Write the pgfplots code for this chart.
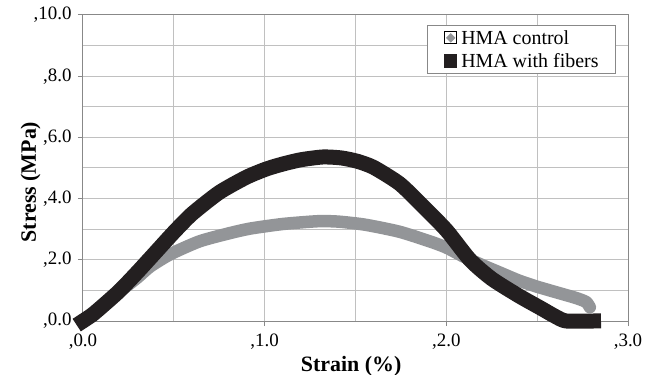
\documentclass[border=0pt]{standalone}
\usepackage{fontspec}
\setmainfont{Liberation Serif}
\usepackage{pgfplots}
\pgfplotsset{compat=1.18}
\definecolor{ctrl}{HTML}{939598}
\definecolor{fib}{HTML}{231F20}
\definecolor{gridc}{HTML}{C0C0C0}
\definecolor{axc}{HTML}{888888}
\begin{document}
\begin{tikzpicture}
\useasboundingbox (-83bp,-54bp) rectangle (574bp,321bp);
\begin{axis}[
  at={(0,0)}, anchor=south west,
  scale only axis, width=545bp, height=306bp,
  xmin=0, xmax=3, ymin=0, ymax=10,
  xtick={0,1,2,3}, xticklabels={{,0.0},{,1.0},{,2.0},{,3.0}},
  ytick={0,2,4,6,8,10}, yticklabels={{,0.0},{,2.0},{,4.0},{,6.0},{,8.0},{,10.0}},
  minor xtick={0.5,1.5,2.5}, minor ytick={1,3,5,7,9},
  grid=both,
  major grid style={gridc, line width=1bp},
  minor grid style={gridc, line width=1bp},
  axis line style={axc, line width=1bp},
  tick style={axc, line width=1bp},
  major tick length=5bp, minor tick length=0pt,
  tick align=outside, tick pos=left,
  ticklabel style={font=\fontsize{19}{21}\selectfont},
  xticklabel style={yshift=-4bp},
  yticklabel style={xshift=-3bp},
  /pgf/number format/assume math mode=true,
  xlabel={Strain (\%)}, ylabel={Stress (MPa)},
  label style={font=\fontsize{22}{24}\selectfont\bfseries},
  xlabel style={at={(axis description cs:0.492,0)}, anchor=base, yshift=-50bp},
  ylabel style={at={(axis description cs:0,0.454)}, anchor=base, yshift=47bp},
  clip=false,
  legend cell align=left,
  legend style={at={(axis description cs:0.978,0.967)}, anchor=north east,
    draw=axc, line width=1bp, fill=white,
    font=\fontsize{20}{23}\selectfont,
    inner xsep=17bp, inner ysep=5.5bp, row sep=9bp,
    nodes={inner sep=0pt, text height=13.5bp, text depth=0bp},
    /tikz/every odd column/.style={column sep=4bp}},
]
\addplot[ctrl, line width=12.5bp, line cap=round, line join=round, smooth, tension=0.4,
  forget plot]
coordinates {
(0,0) (0.1,0.45) (0.2,0.95) (0.3,1.42) (0.37,1.78) (0.48,2.18) (0.64,2.6)
(0.8,2.86) (0.92,3.02) (1.1,3.17) (1.29,3.26) (1.4,3.25) (1.55,3.15)
(1.74,2.92) (1.91,2.6) (2.0,2.4) (2.09,2.12) (2.2,1.82) (2.3,1.57)
(2.4,1.32) (2.5,1.12) (2.64,0.88) (2.72,0.74) (2.77,0.62) (2.79,0.45)
};
\addplot[fib, line width=15bp, line cap=rect, line join=round, smooth, tension=0.4,
  forget plot]
coordinates {
(0,0) (0.05,0.2) (0.1,0.45) (0.2,0.98) (0.3,1.6) (0.4,2.25) (0.5,2.9)
(0.6,3.5) (0.75,4.2) (0.9,4.7) (1.01,4.97) (1.1,5.13) (1.2,5.27)
(1.32,5.36) (1.42,5.33) (1.51,5.22) (1.6,5.02) (1.74,4.5) (1.85,3.88)
(2.0,2.97) (2.13,2.0) (2.25,1.38) (2.4,0.82) (2.52,0.42) (2.6,0.15)
(2.66,0) (2.81,0)
};
\addlegendimage{/pgfplots/legend image code/.code={\path (0,-6bp) rectangle (12bp,6bp);
    \fill[ctrl] (6bp,4bp) -- (10bp,0bp) -- (6bp,-4bp) -- (2bp,0bp) -- cycle;}}
\addlegendentry{HMA control}
\addlegendimage{/pgfplots/legend image code/.code={\path (0,-6bp) rectangle (12bp,6bp);
    \fill[fib] (0bp,-6.5bp) rectangle (12bp,6.5bp);}}
\addlegendentry{HMA with fibers}
\end{axis}
\end{tikzpicture}
\end{document}
